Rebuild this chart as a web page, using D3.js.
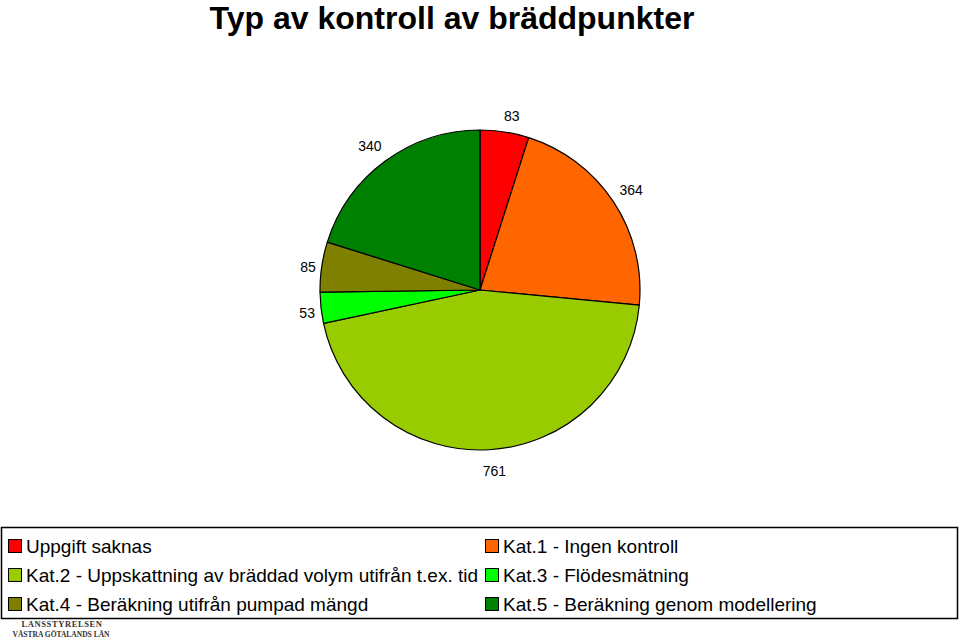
<!DOCTYPE html>
<html><head><meta charset="utf-8">
<script src="https://cdn.jsdelivr.net/npm/d3@7"></script>
<style>body{margin:0;background:#fff}svg{display:block}</style>
</head><body>
<svg id="c" width="960" height="639"></svg>
<script>
const categories = ["Uppgift saknas","Kat.1 - Ingen kontroll","Kat.2 - Uppskattning av bräddad volym utifrån t.ex. tid","Kat.3 - Flödesmätning","Kat.4 - Beräkning utifrån pumpad mängd","Kat.5 - Beräkning genom modellering"];
const values = [83,364,761,53,85,340];
const colors = ["#FF0000","#FF6600","#99CC00","#00FF00","#808000","#008000"];
const labelNudgeX = [4,0,4,7,7,-3];
const labelNudgeY = [5,0,0,3,3,2];

const svg = d3.select("#c");
const W=960,H=639;
svg.append("rect").attr("width",W).attr("height",H).attr("fill","#fff");

svg.append("text").attr("x",452).attr("y",29).attr("text-anchor","middle")
  .attr("font-family","Arial, 'Liberation Sans', sans-serif").attr("font-weight","bold")
  .attr("font-size",32).text("Typ av kontroll av bräddpunkter");

const cx=480, cy=290, R=160;
const pie = d3.pie().sort(null).value(d=>d)(values);
const arc = d3.arc().innerRadius(0).outerRadius(R);
const g = svg.append("g").attr("transform",`translate(${cx},${cy})`);
g.selectAll("path").data(pie).join("path").attr("d",arc)
  .attr("fill",(d,i)=>colors[i]).attr("stroke","#000").attr("stroke-width",1.2).attr("stroke-linejoin","round");

const lab = d3.arc().innerRadius(181).outerRadius(181);
g.selectAll("text.l").data(pie).join("text").attr("class","l")
  .attr("x",(d,i)=>lab.centroid(d)[0]+labelNudgeX[i])
  .attr("y",(d,i)=>lab.centroid(d)[1]+labelNudgeY[i])
  .attr("dy","0.35em").attr("text-anchor","middle")
  .attr("font-family","Arial, 'Liberation Sans', sans-serif").attr("font-size",14)
  .text(d=>d.data);

// legend
svg.append("rect").attr("x",1.5).attr("y",527.5).attr("width",956).attr("height",91)
  .attr("fill","#fff").attr("stroke","#000").attr("stroke-width",1.5);
const order=[[0,0],[1,1],[2,0],[3,1],[4,0],[5,1]];
const colX=[8,485], rowY=[546,575,604];
order.forEach(([i,col],k)=>{
  const row=Math.floor(k/2);
  const x=colX[col], y=rowY[row];
  svg.append("rect").attr("x",x+0.5).attr("y",y-6.5).attr("width",13).attr("height",13)
    .attr("fill",colors[i]).attr("stroke","#000").attr("stroke-width",1);
  svg.append("text").attr("x",x+18).attr("y",y+7)
    .attr("font-family","Arial, 'Liberation Sans', sans-serif").attr("font-size",19)
    .text(categories[i]);
});

// logo
svg.append("text").attr("x",62).attr("y",627).attr("text-anchor","middle")
  .attr("font-family","'Liberation Serif', 'DejaVu Serif', serif").attr("font-weight","bold")
  .attr("font-size",8.5).attr("fill","#333").attr("letter-spacing",0.6).text("LANSSTYRELSEN");
svg.append("text").attr("x",61).attr("y",637).attr("text-anchor","middle")
  .attr("font-family","'Liberation Serif', 'DejaVu Serif', serif").attr("font-weight","bold")
  .attr("font-size",7.5).attr("fill","#333").text("VÄSTRA GÖTALANDS LÄN");
</script>
</body></html>
